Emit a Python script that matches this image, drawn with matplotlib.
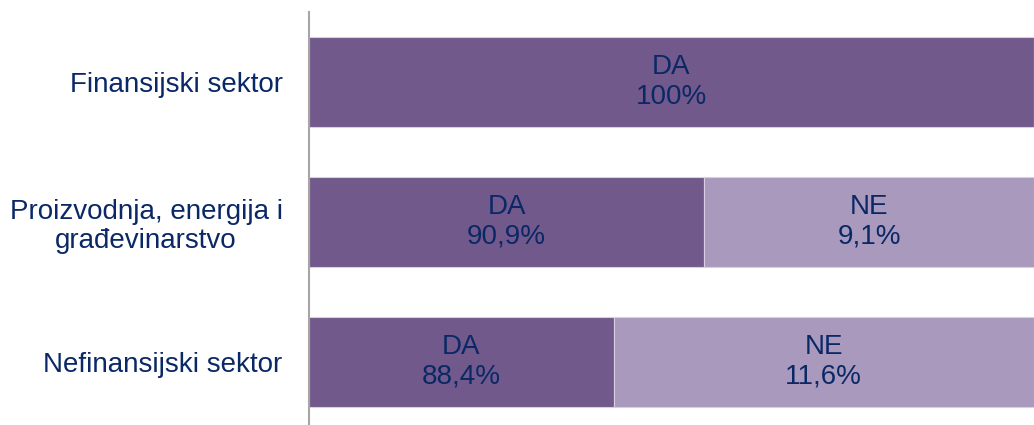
import matplotlib.pyplot as plt

plt.rcParams['font.family'] = ['Liberation Sans', 'DejaVu Sans']

# data
sectors = ['Finansijski sektor', 'Proizvodnja, energija i\ngrađevinarstvo', 'Nefinansijski sektor']
da_vals = [100.0, 90.9, 88.4]
ne_vals = [0.0, 9.1, 11.6]
da_labels = ['DA\n100%', 'DA\n90,9%', 'DA\n88,4%']
ne_labels = ['', 'NE\n9,1%', 'NE\n11,6%']

x_start = 80  # axis starts at 80%
dark = '#71598B'
light = '#A99ABD'
text_col = '#0B2866'

fig = plt.figure(figsize=(10.34, 4.25), dpi=100)
ax = fig.add_axes([309 / 1034, 0, 1 - 309 / 1034, 413 / 425])

y = list(range(len(sectors)))
ax.barh(y, [v - x_start for v in da_vals], left=x_start, height=0.64,
        color=dark, edgecolor='#D8D0E2', linewidth=0.8)
ax.barh(y, ne_vals, left=da_vals, height=0.64,
        color=light, edgecolor='#D8D0E2', linewidth=0.8)

for i in y:
    ax.text((x_start + da_vals[i]) / 2, i, da_labels[i], ha='center', va='center',
            fontsize=20, color=text_col, linespacing=1.15)
    if ne_vals[i] > 0:
        ax.text(da_vals[i] + ne_vals[i] / 2, i, ne_labels[i], ha='center', va='center',
                fontsize=20, color=text_col, linespacing=1.15)

ax.set_xlim(x_start, 100)
ax.set_ylim(2.45, -0.5)
ax.set_yticks(y)
ax.set_yticklabels(sectors, fontsize=20, color=text_col, linespacing=1.15)
for lbl in ax.get_yticklabels():
    lbl.set_multialignment('center')
ax.tick_params(axis='y', length=0, pad=19)
ax.set_xticks([])

for s in ['top', 'right', 'bottom']:
    ax.spines[s].set_visible(False)
ax.spines['left'].set_color('#A6A6A6')
ax.spines['left'].set_linewidth(1.5)

fig.savefig('out.png', dpi=100)
